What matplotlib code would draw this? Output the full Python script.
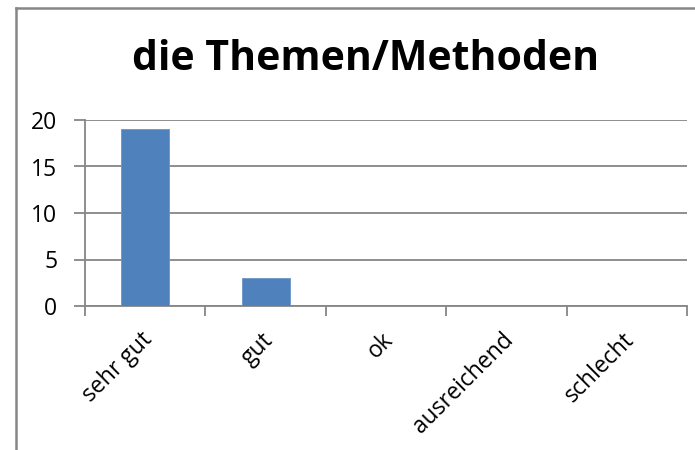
import matplotlib
matplotlib.use("Agg")
import matplotlib.pyplot as plt
from matplotlib.lines import Line2D
import matplotlib.transforms as mtrans
import numpy as np

categories = ["sehr gut", "gut", "ok", "ausreichend", "schlecht"]
values = [19, 3, 0, 0, 0]
yticks = [0, 5, 10, 15, 20]
title = "die Themen/Methoden"

plt.rcParams['font.family'] = ['Open Sans', 'DejaVu Sans']

fig = plt.figure(figsize=(6.95, 4.5), dpi=100)
ax = fig.add_axes([85/695, 1-306/450, (687-85)/695, (306-120)/450])

gray = "#868686"
x = np.arange(len(categories))
ax.bar(x, values, width=0.4, color="#4f81bd", edgecolor="#6a95c8", linewidth=0.6, zorder=3)

ax.set_xlim(-0.5, len(categories)-0.5)
ax.set_ylim(0, 20)
ax.set_yticks(yticks)
ax.set_yticklabels([str(v) for v in yticks], fontsize=16.5)
ax.yaxis.grid(True, color=gray, linewidth=1.3, zorder=0)
ax.tick_params(axis='y', length=8, width=1.3, color=gray, direction='out', pad=12)

ax.set_xticks(x)
ax.set_xticklabels(categories, rotation=45, ha='right', va='center',
                   rotation_mode='anchor', fontsize=16.5)
ax.tick_params(axis='x', which='major', length=0, pad=22)
offset = mtrans.ScaledTranslation(4/100, 0, fig.dpi_scale_trans)
for lbl in ax.get_xticklabels():
    lbl.set_transform(lbl.get_transform() + offset)
ax.set_xticks(np.arange(-0.5, len(categories), 1), minor=True)
ax.tick_params(axis='x', which='minor', length=7, width=1.3, color=gray, direction='out')

for s in ['top', 'right']:
    ax.spines[s].set_visible(False)
for s in ['left', 'bottom']:
    ax.spines[s].set_color(gray)
    ax.spines[s].set_linewidth(1.3)

fig.text(366/695, 1-60/450, title, ha='center', va='center', fontsize=29.5, fontweight='bold')

# chart frame (left and top edges visible)
fig.add_artist(Line2D([16/695, 16/695], [0, 1-8/450], transform=fig.transFigure, color=gray, linewidth=1.8))
fig.add_artist(Line2D([16/695, 1], [1-8/450, 1-8/450], transform=fig.transFigure, color=gray, linewidth=1.8))

fig.savefig("out.png", dpi=100)
